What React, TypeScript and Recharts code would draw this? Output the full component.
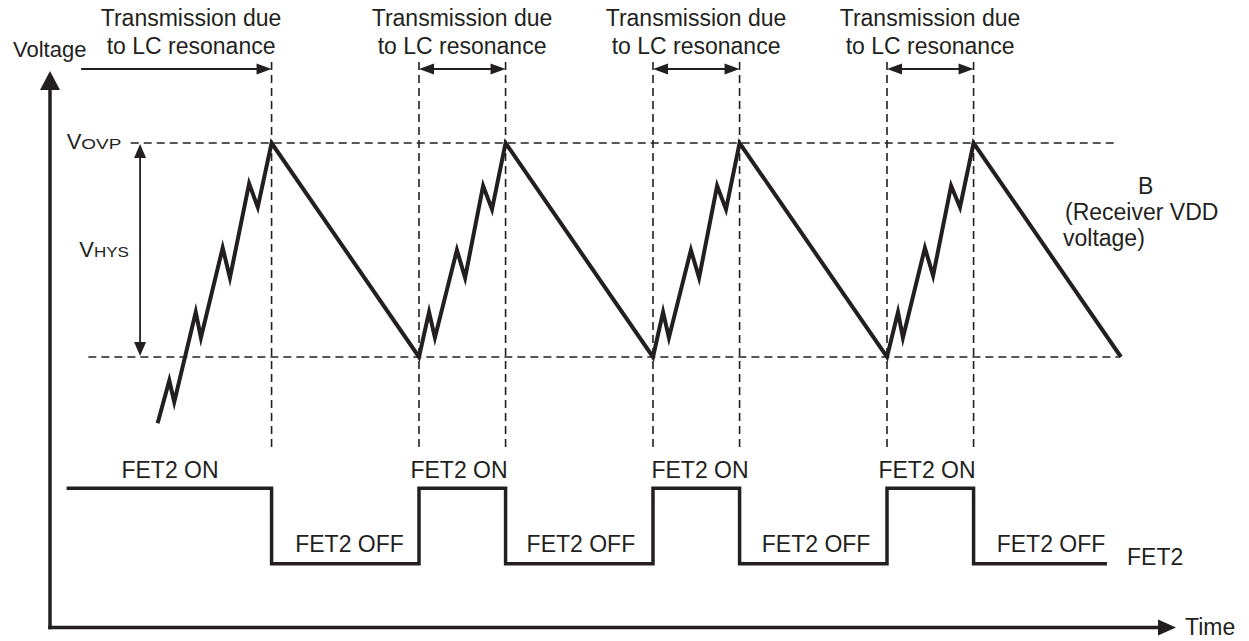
import React from 'react';
import { ComposedChart, Line, XAxis, YAxis, ReferenceLine } from 'recharts';

// ---------- data ----------
// Receiver VDD voltage (B): time in arbitrary units, voltage in V
const vddTime = [
  38.3, 43.3, 45.4, 54.6, 56.8, 66.1, 69.2, 77.4, 81.1, 87,
  150, 154.3, 156.8, 166.2, 169.7, 177.4, 181.2, 187,
  250, 254.3, 256.8, 266.2, 269.7, 277.4, 281.2, 287,
  350, 354.7, 356.8, 366.2, 369.7, 377.4, 381.2, 387, 450,
];
const vddVoltage = [
  3.69, 3.89, 3.79, 4.21, 4.09, 4.51, 4.37, 4.81, 4.7, 5.0,
  4.0, 4.21, 4.09, 4.5, 4.37, 4.8, 4.69, 5.0,
  4.0, 4.21, 4.09, 4.5, 4.37, 4.8, 4.69, 5.0,
  4.0, 4.21, 4.09, 4.51, 4.38, 4.8, 4.7, 5.0, 4.0,
];

// FET2 state (1 = ON, 0 = OFF), step after each time
const fetTime = [-0.6, 87, 150, 187, 250, 287, 350, 387, 444];
const fetState = [1, 0, 1, 0, 1, 0, 1, 0, 0];

// thresholds
const V_OVP = 5.0;
const V_LOW = 4.0;
const ovpLineRange = [26.8, 449];
const lowLineRange = [8.7, 449];
const hysArrowTime = 30.8;

// event markers (dashed verticals)
const markerTimes = [87, 150, 187, 250, 287, 350, 387];
const markerVRange = [5.379, 3.556];

// "Transmission due to LC resonance" intervals and label centres
const lcIntervals = [
  [5.6, 87],
  [150, 187],
  [250, 287],
  [350, 387],
];
const lcLabelTime = [52.6, 168.4, 268.4, 368.4];

const fetOnLabelTime = [43.6, 167.1, 270.1, 367.1];
const fetOffLabelTime = [120.3, 219.2, 319.7, 420.1];

// ---------- layout ----------
const INK = '#231f20';
const FONT = '"Liberation Sans", Arial, Helvetica, sans-serif';
const W = 1249;
const H = 641;
const M = { top: 88, right: 89, bottom: 13.5, left: 50 };
const T_DOMAIN: [number, number] = [-7.692, 466.667];
const V_DOMAIN: [number, number] = [2.736, 5.257];
const S_DOMAIN: [number, number] = [-0.846, 6.309];
const PW = W - M.left - M.right;
const PH = H - M.top - M.bottom;
const px = (t: number) => M.left + ((t - T_DOMAIN[0]) / (T_DOMAIN[1] - T_DOMAIN[0])) * PW;
const pyV = (v: number) => M.top + ((V_DOMAIN[1] - v) / (V_DOMAIN[1] - V_DOMAIN[0])) * PH;
const pyS = (s: number) => M.top + ((S_DOMAIN[1] - s) / (S_DOMAIN[1] - S_DOMAIN[0])) * PH;

const vddData = vddTime.map((t, i) => ({ t, v: vddVoltage[i] }));
const fetData = fetTime.map((t, i) => ({ t, s: fetState[i] }));

const HEAD_ROW1 = 26;
const HEAD_ROW2 = 54;
const ARROW_ROW = 69;

function Arrow({ x1, x2, y, left }: { x1: number; x2: number; y: number; left: boolean }) {
  const L = 15;
  const h = 5.5;
  return (
    <g>
      <line x1={left ? x1 + L - 1 : x1} x2={x2 - L + 1} y1={y} y2={y} stroke={INK} strokeWidth={1.8} />
      <polygon points={`${x2},${y} ${x2 - L},${y - h} ${x2 - L},${y + h}`} fill={INK} />
      {left && <polygon points={`${x1},${y} ${x1 + L},${y - h} ${x1 + L},${y + h}`} fill={INK} />}
    </g>
  );
}

function Overlay() {
  const hx = px(hysArrowTime);
  const yTop = pyV(V_OVP);
  const yBot = pyV(V_LOW);
  const axisLeft = px(T_DOMAIN[0]);
  const axisRight = px(T_DOMAIN[1]);
  const axisBottom = pyV(V_DOMAIN[0]);
  const axisTop = pyV(V_DOMAIN[1]);
  return (
    <svg
      width={W}
      height={H}
      style={{ position: 'absolute', left: 0, top: 0, pointerEvents: 'none' }}
      fontFamily={FONT}
      fill={INK}
    >
      {/* axes with arrowheads */}
      <line x1={axisLeft} x2={axisLeft} y1={axisTop} y2={axisBottom + 1.75} stroke={INK} strokeWidth={3.5} />
      <line x1={axisLeft - 1.75} x2={axisRight} y1={axisBottom} y2={axisBottom} stroke={INK} strokeWidth={3.5} />
      <polygon points={`${axisLeft},71 ${axisLeft - 10},90 ${axisLeft + 10},90`} fill={INK} />
      <polygon points={`${axisRight + 16},${axisBottom} ${axisRight - 2},${axisBottom - 8} ${axisRight - 2},${axisBottom + 8}`} fill={INK} />
      <text x={13} y={57} fontSize={22}>Voltage</text>
      <text x={axisRight + 25} y={635} fontSize={23}>Time</text>

      {/* LC resonance labels and arrows */}
      {lcLabelTime.map((t, i) => (
        <g key={'lc' + i}>
          <text x={px(t)} y={HEAD_ROW1} fontSize={23} textAnchor="middle">Transmission due</text>
          <text x={px(t)} y={HEAD_ROW2} fontSize={23} textAnchor="middle">to LC resonance</text>
        </g>
      ))}
      {lcIntervals.map(([a, b], i) => (
        <Arrow key={'ar' + i} x1={px(a)} x2={px(b)} y={ARROW_ROW} left={i > 0} />
      ))}

      {/* VOVP / VHYS */}
      <text x={66.7} y={149.3} fontSize={22}>
        V<tspan fontSize={14} textLength={40} lengthAdjust="spacingAndGlyphs">OVP</tspan>
      </text>
      <text x={79.3} y={256.7} fontSize={22}>
        V<tspan fontSize={14} textLength={35} lengthAdjust="spacingAndGlyphs">HYS</tspan>
      </text>
      <line x1={hx} x2={hx} y1={yTop + 13} y2={yBot - 13} stroke={INK} strokeWidth={1.8} />
      <polygon points={`${hx},${yTop + 1} ${hx - 6},${yTop + 15} ${hx + 6},${yTop + 15}`} fill={INK} />
      <polygon points={`${hx},${yBot - 1} ${hx - 6},${yBot - 15} ${hx + 6},${yBot - 15}`} fill={INK} />

      {/* B label */}
      <text x={1145.7} y={194} fontSize={23} textAnchor="middle">B</text>
      <text x={1065} y={220} fontSize={23}>(Receiver VDD</text>
      <text x={1063} y={246} fontSize={23}>voltage)</text>

      {/* FET2 labels */}
      {fetOnLabelTime.map((t, i) => (
        <text key={'on' + i} x={px(t)} y={pyS(1) - 10} fontSize={23} textAnchor="middle">FET2 ON</text>
      ))}
      {fetOffLabelTime.map((t, i) => (
        <text key={'off' + i} x={px(t)} y={pyS(0) - 12} fontSize={23} textAnchor="middle">FET2 OFF</text>
      ))}
      <text x={1127} y={565} fontSize={23}>FET2</text>
    </svg>
  );
}

export default function App() {
  return (
    <div style={{ position: 'absolute', left: 0, top: 0, width: W, height: H, background: '#fff' }}>
      <ComposedChart width={W} height={H} margin={M}>
        <XAxis type="number" dataKey="t" domain={T_DOMAIN} allowDataOverflow hide height={0} />
        <YAxis yAxisId="v" type="number" domain={V_DOMAIN} allowDataOverflow hide width={0} />
        <YAxis yAxisId="fet" type="number" domain={S_DOMAIN} allowDataOverflow hide width={0} />

        <ReferenceLine
          yAxisId="v"
          segment={[{ x: ovpLineRange[0], y: V_OVP }, { x: ovpLineRange[1], y: V_OVP }]}
          stroke={INK}
          strokeWidth={1.6}
          strokeDasharray="8 5"
          ifOverflow="visible"
        />
        <ReferenceLine
          yAxisId="v"
          segment={[{ x: lowLineRange[0], y: V_LOW }, { x: lowLineRange[1], y: V_LOW }]}
          stroke={INK}
          strokeWidth={1.6}
          strokeDasharray="8 5"
          ifOverflow="visible"
        />
        {markerTimes.map((t) => (
          <ReferenceLine
            key={'m' + t}
            yAxisId="v"
            segment={[{ x: t, y: markerVRange[0] }, { x: t, y: markerVRange[1] }]}
            stroke={INK}
            strokeWidth={1.6}
            strokeDasharray="8 5"
            ifOverflow="visible"
          />
        ))}

        <Line
          yAxisId="v"
          data={vddData}
          dataKey="v"
          type="linear"
          stroke={INK}
          strokeWidth={4}
          strokeLinejoin="miter"
          strokeMiterlimit={10}
          dot={false}
          activeDot={false}
          isAnimationActive={false}
        />
        <Line
          yAxisId="fet"
          data={fetData}
          dataKey="s"
          type="stepAfter"
          stroke={INK}
          strokeWidth={3.5}
          strokeLinejoin="miter"
          dot={false}
          activeDot={false}
          isAnimationActive={false}
        />
      </ComposedChart>
      <Overlay />
    </div>
  );
}
